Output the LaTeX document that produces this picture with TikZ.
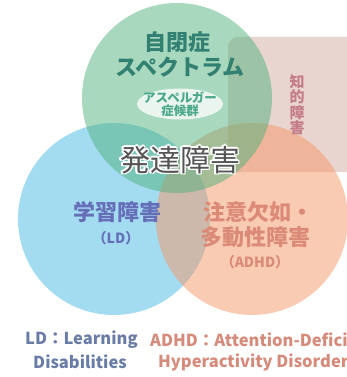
\documentclass[tikz,border=0pt]{standalone}
\usepackage{fontspec}
\usetikzlibrary{shapes.geometric}
\setmainfont{Noto Sans CJK JP}
\begin{document}
\begin{tikzpicture}[x=1pt,y=-1pt,
  circ/.style={fill opacity=0.5},
  lab/.style={font=\bfseries, inner sep=0pt, align=center},
]
\definecolor{cgreen}{RGB}{81,177,125}
\definecolor{cblue}{RGB}{71,185,227}
\definecolor{corange}{RGB}{245,151,103}
\definecolor{cpink}{RGB}{209,171,159}
\definecolor{tteal}{RGB}{50,128,114}
\definecolor{tasp}{RGB}{74,168,138}
\definecolor{tld}{RGB}{102,110,184}
\definecolor{tadhd}{RGB}{218,138,118}
\definecolor{tint}{RGB}{196,124,134}
\definecolor{tldb}{RGB}{104,124,166}
\definecolor{tadhdb}{RGB}{214,138,122}
\definecolor{tdev}{RGB}{85,85,85}
\useasboundingbox (0,0) rectangle (347,377);
\clip (0,0) rectangle (347,377);
% shapes
\fill[cpink, circ, rounded corners=10pt] (228,37) rectangle (360,172);
\fill[cblue, circ] (114,219) circle (96);
\fill[corange, circ] (252,219) circle (96);
\fill[cgreen, circ] (177,98) circle (95);
\node[fill=white, fill opacity=0.75, ellipse, minimum width=86pt, minimum height=31pt, inner sep=0pt] (asp) at (180,104) {};
% texts
\node[lab, text=tteal, font=\bfseries\fontsize{22}{26}\selectfont] (asd1) at (177,42) {自閉症};
\node[lab, text=tteal, font=\bfseries\fontsize{22}{26}\selectfont] (asd2) at (180,67) {スペクトラム};
\node[lab, text=tasp, font=\bfseries\fontsize{12.5}{13}\selectfont] (asp1) at (180,98) {アスペルガー};
\node[lab, text=tasp, font=\bfseries\fontsize{12.5}{13}\selectfont] (asp2) at (180,111) {症候群};
% developmental disorder with white halo
\foreach \dx/\dy in {-1.5/0,1.5/0,0/-1.5,0/1.5,-1.1/-1.1,1.1/1.1,-1.1/1.1,1.1/-1.1}{
  \node[lab, text=white, font=\fontsize{30}{32}\selectfont] at (180+\dx,160+\dy) {発達障害};
}
\node[lab, text=tdev, font=\fontsize{30}{32}\selectfont] (dev) at (180,160) {発達障害};
% intellectual disability vertical
\node[lab, text=tint, font=\bfseries\fontsize{15}{16}\selectfont] (int) at (297,105) {知\\[-0.5pt]的\\[-0.5pt]障\\[-0.5pt]害};
% LD
\node[lab, text=tld, font=\bfseries\fontsize{22}{26}\selectfont] (ld1) at (117,212) {学習障害};
\node[lab, text=tld, font=\bfseries\fontsize{14}{15}\selectfont] (ld2) at (116,238) {（LD）};
% ADHD
\node[lab, text=tadhd, font=\bfseries\fontsize{22}{26}\selectfont] (ad1) at (258,212) {注意欠如・};
\node[lab, text=tadhd, font=\bfseries\fontsize{22}{26}\selectfont] (ad2) at (255,237) {多動性障害};
\node[lab, text=tadhd, font=\bfseries\fontsize{14}{15}\selectfont] (ad3) at (255,262) {（ADHD）};
% bottom captions
\node[lab, text=tldb, font=\bfseries\fontsize{16.5}{18}\selectfont, anchor=west] (cap1) at (25,340) {LD：Learning};
\node[lab, text=tldb, font=\bfseries\fontsize{16.5}{18}\selectfont] (cap2) at (80,362) {Disabilities};
\node[lab, text=tadhdb, font=\bfseries\fontsize{16.5}{18}\selectfont, anchor=west] (cap3) at (150,340) {ADHD：Attention-Deficit};
\node[lab, text=tadhdb, font=\bfseries\fontsize{16.5}{18}\selectfont, anchor=west] (cap4) at (158,362) {Hyperactivity Disorder};
\end{tikzpicture}
\end{document}
